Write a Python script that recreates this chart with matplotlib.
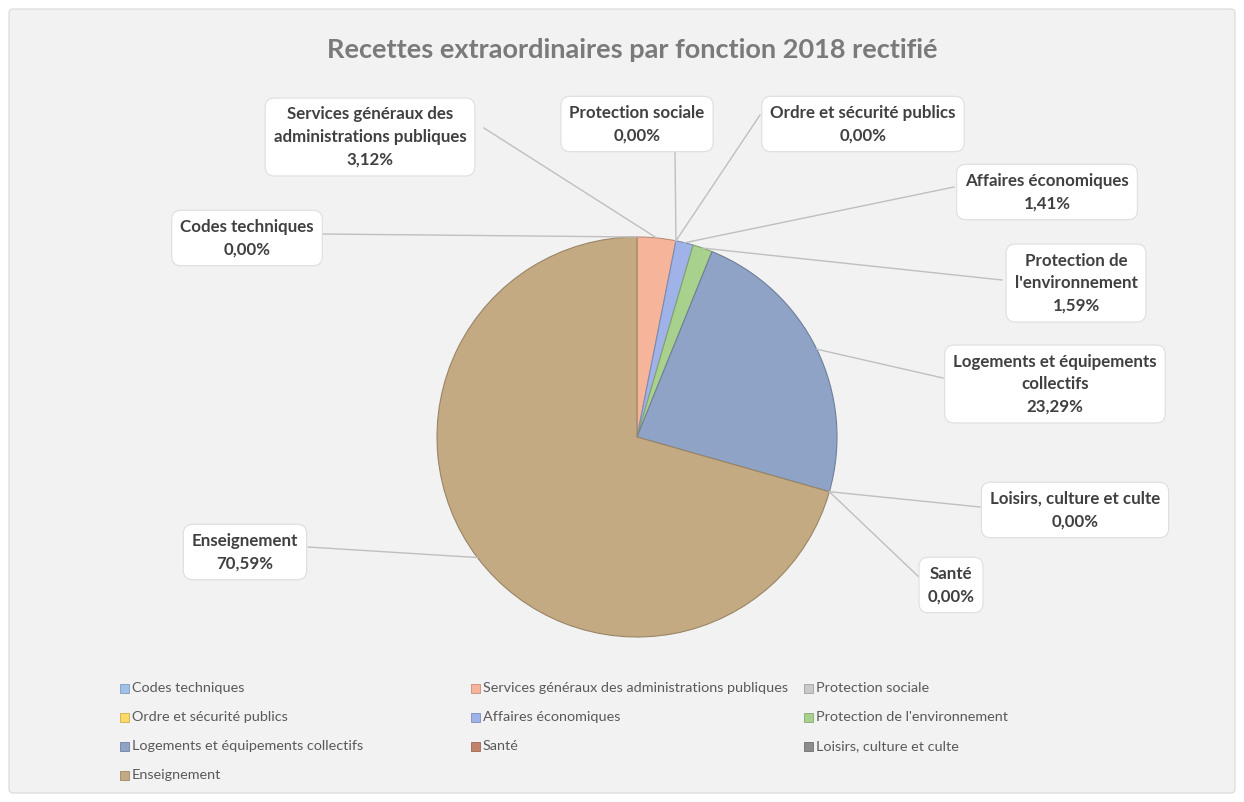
import numpy as np
import matplotlib
matplotlib.use("Agg")
import matplotlib.pyplot as plt
from matplotlib.patches import FancyBboxPatch, Rectangle
import matplotlib.colors as mcolors

plt.rcParams['font.family'] = ['Lato', 'DejaVu Sans']

# ---------------- data ----------------
title = "Recettes extraordinaires par fonction 2018 rectifié"
categories = [
    "Codes techniques",
    "Services généraux des administrations publiques",
    "Protection sociale",
    "Ordre et sécurité publics",
    "Affaires économiques",
    "Protection de l'environnement",
    "Logements et équipements collectifs",
    "Santé",
    "Loisirs, culture et culte",
    "Enseignement",
]
values = [0.00, 3.12, 0.00, 0.00, 1.41, 1.59, 23.29, 0.00, 0.00, 70.59]
label_names = [
    "Codes techniques",
    "Services généraux des\nadministrations publiques",
    "Protection sociale",
    "Ordre et sécurité publics",
    "Affaires économiques",
    "Protection de\nl'environnement",
    "Logements et équipements\ncollectifs",
    "Santé",
    "Loisirs, culture et culte",
    "Enseignement",
]
colors = ["#9fc0e8", "#f6b49a", "#c9c9c9", "#ffd966", "#9fb3e8",
          "#a9d18e", "#8ea3c5", "#c08268", "#8c8c8c", "#c4aa82"]

# ---------------- layout (pixel coords, y from top) ----------------
W, H = 1244, 802
cx, cy, R = 637, 437, 200
label_pos = [(247, 238), (370, 137), (637, 124), (863, 124), (1047, 192),
             (1076, 283), (1055, 384), (951, 585), (1075, 510), (245, 552)]
line_start = [(322, 234), (484, 128), (675, 151), (760, 115), (954, 187),
              (1002, 280), (943, 378), (922, 580), (980, 507), (308, 547)]
Y = lambda y: H - y

fig = plt.figure(figsize=(W / 100, H / 100), dpi=100, facecolor="white")
ax = fig.add_axes([0, 0, 1, 1])
ax.set_xlim(0, W)
ax.set_ylim(0, H)
ax.axis("off")

bg = FancyBboxPatch((9, 9), W - 18, H - 18, boxstyle="round,pad=0,rounding_size=4",
                    fc="#f2f2f2", ec="#d9d9d9", lw=0.8, zorder=0)
ax.add_patch(bg)

wedges, _ = ax.pie(values, colors=colors, startangle=90, counterclock=False,
                   center=(cx, Y(cy)), radius=R, normalize=True,
                   wedgeprops=dict(linewidth=0.8))
for w, v, c in zip(wedges, values, colors):
    w.set_zorder(2)
    if v == 0:
        w.set_edgecolor("none")
    else:
        rgb = np.array(mcolors.to_rgb(c)) * 0.78
        w.set_edgecolor(rgb)

ax.set_xlim(0, W)
ax.set_ylim(0, H)
ax.set_aspect("equal")

# leader lines + labels
cum = np.cumsum([0] + values[:-1])
total = sum(values)
for i, (name, v) in enumerate(zip(label_names, values)):
    mid = (cum[i] + v / 2) / total * 360.0
    ang = np.deg2rad(90 - mid)
    px = cx + R * np.cos(ang)
    py = Y(cy) + R * np.sin(ang)
    sx, sy = line_start[i]
    ax.plot([sx, px], [Y(sy), py], color="#bfbfbf", lw=1.0, zorder=3)
    pct = f"{v:.2f}".replace(".", ",") + "%"
    lx, ly = label_pos[i]
    ax.text(lx, Y(ly), f"{name}\n{pct}", ha="center", va="center",
            fontsize=12.2, fontweight="bold", color="#404040",
            linespacing=1.5, zorder=5,
            bbox=dict(boxstyle="round,pad=0.5,rounding_size=0.55", fc="white",
                      ec="#dedede", lw=0.8))

# title
ax.text(632, Y(50), title, ha="center", va="center", fontsize=19.5,
        fontweight="bold", color="#7a7a7a", zorder=5)

# legend (row-major, 3 columns)
col_x = [120, 471, 804]
row_y = [688, 717, 746, 775]
for i, (cat, c) in enumerate(zip(categories, colors)):
    r, k = divmod(i, 3)
    x0, y0 = col_x[k], row_y[r]
    ax.add_patch(Rectangle((x0, Y(y0) - 4.5), 9, 9, fc=c,
                           ec=np.array(mcolors.to_rgb(c)) * 0.8, lw=0.6, zorder=5))
    ax.text(x0 + 12, Y(y0), cat, ha="left", va="center", fontsize=10.4,
            color="#595959", zorder=5)

fig.savefig("out.png", dpi=100, facecolor="white")
